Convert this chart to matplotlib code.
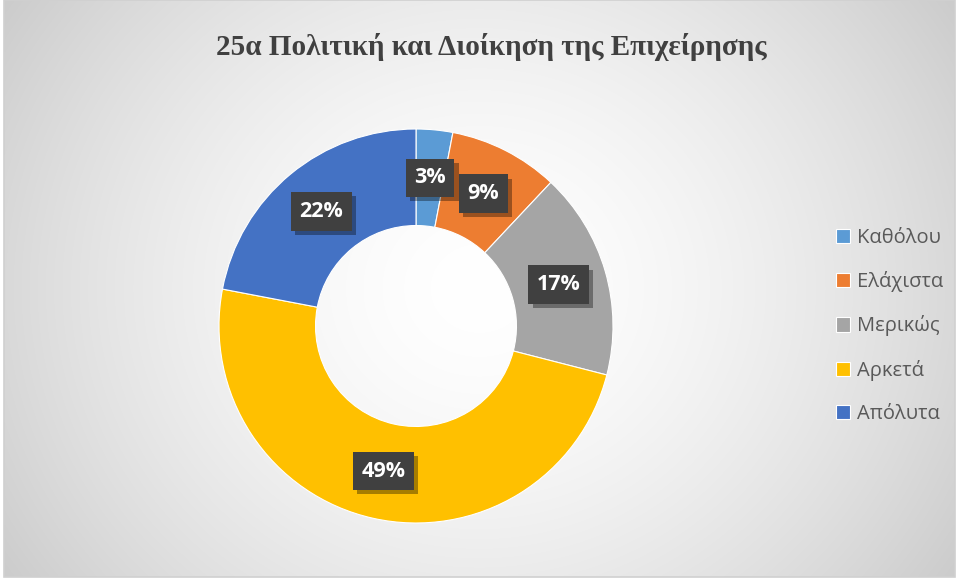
import numpy as np
import matplotlib.pyplot as plt
import matplotlib.patheffects as pe
from matplotlib.patches import Rectangle

# data
categories = ["Καθόλου", "Ελάχιστα", "Μερικώς", "Αρκετά", "Απόλυτα"]
values = [3, 9, 17, 49, 22]
colors = ["#5B9BD5", "#ED7D31", "#A5A5A5", "#FFC000", "#4472C4"]
title = "25α Πολιτική και Διοίκηση της Επιχείρησης"

W, H = 959, 581
fig = plt.figure(figsize=(W / 100, H / 100), dpi=100)
fig.patch.set_facecolor("white")

# background with radial gradient (chart area)
x0, x1, y0, y1 = 4, 955, 4, 581  # pixel coords, y from bottom
bg = fig.add_axes([x0 / W, y0 / H, (x1 - x0) / W, (y1 - y0) / H])
gx, gy = np.meshgrid(np.linspace(-1, 1, 400), np.linspace(-1, 1, 250))
r = np.sqrt((gx * 0.9) ** 2 + (gy * 0.6) ** 2)
r = np.clip(r / 1.08, 0, 1)
shade = 1.0 - 0.2 * r ** 1.6
bg.imshow(np.dstack([shade] * 3), extent=[0, 1, 0, 1], aspect="auto",
          interpolation="bilinear", origin="lower")
bg.set_xlim(0, 1)
bg.set_ylim(0, 1)
bg.axis("off")
bg.add_patch(Rectangle((0, 0), 1, 1, transform=bg.transAxes, fill=False,
                       edgecolor="#d0d0d0", lw=1.2, clip_on=False))

# donut
cx, cy, R = 416, 581 - 326, 197
ax = fig.add_axes([(cx - R) / W, (cy - R) / H, 2 * R / W, 2 * R / H])
wedges, _ = ax.pie(values, colors=colors, startangle=90, counterclock=False,
                   radius=1.0, wedgeprops=dict(width=0.49, edgecolor="white", linewidth=0.8))
ax.set_xlim(-1, 1)
ax.set_ylim(-1, 1)
ax.axis("off")

# labels
total = sum(values)
cum = 0
for v in values:
    mid = (cum + v / 2) / total * 2 * np.pi
    cum += v
    rr = 0.755
    lx, ly = rr * np.sin(mid), rr * np.cos(mid)
    t = ax.text(lx, ly, f"{v}%", ha="center", va="center", color="white",
                fontsize=15.5, fontweight="bold", family="Open Sans",
                bbox=dict(boxstyle="square,pad=0.4", facecolor="#404040", edgecolor="none"))
    t.get_bbox_patch().set_path_effects([
        pe.SimplePatchShadow(offset=(3, -3), shadow_rgbFace="black", alpha=0.35),
        pe.Normal()])

# title
fig.text(491 / W, 1 - 47 / H, title, ha="center", va="center", fontsize=21,
         fontweight="bold", family="Liberation Serif", color="#404040")

# legend
leg = fig.legend(wedges, categories, loc="center left",
                 bbox_to_anchor=(818 / W, 1 - 326 / H), frameon=False,
                 prop=dict(family="Open Sans", size=14.5), labelcolor="#595959",
                 handlelength=0.7, handleheight=0.7, handletextpad=0.35,
                 labelspacing=1.15)

fig.savefig("out.png", dpi=100)
